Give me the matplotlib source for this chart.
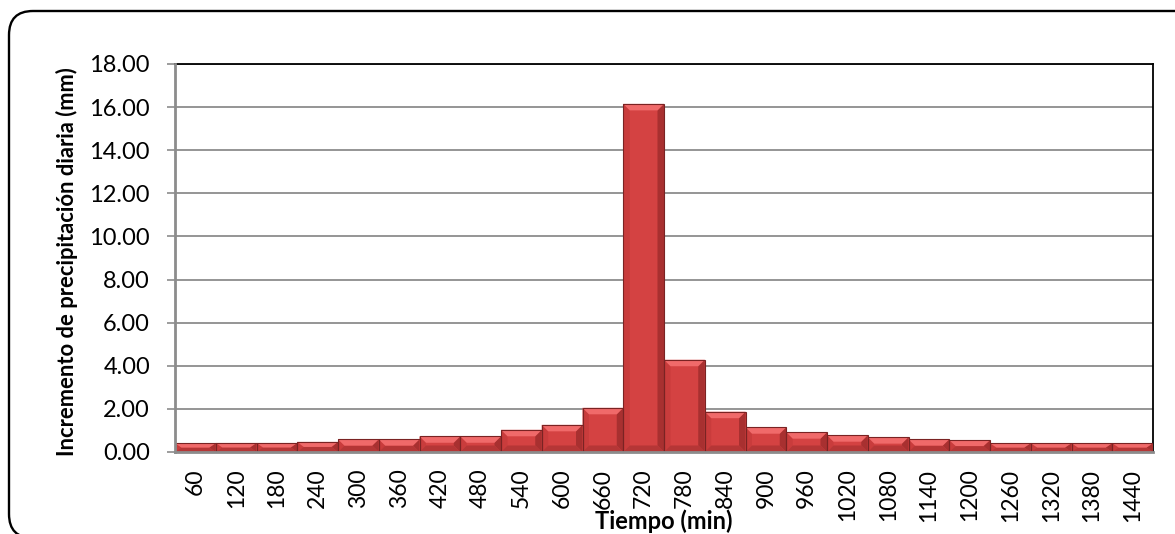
import matplotlib
matplotlib.use("Agg")
import matplotlib.pyplot as plt
from matplotlib.patches import Polygon, FancyBboxPatch
from matplotlib.transforms import IdentityTransform

# Time steps (min) and incremental daily precipitation (mm)
tiempo = [60, 120, 180, 240, 300, 360, 420, 480, 540, 600, 660, 720,
          780, 840, 900, 960, 1020, 1080, 1140, 1200, 1260, 1320, 1380, 1440]
incremento = [0.41, 0.42, 0.42, 0.47, 0.59, 0.59, 0.73, 0.73, 1.03, 1.26, 2.05, 16.15,
              4.28, 1.87, 1.15, 0.92, 0.78, 0.69, 0.59, 0.55, 0.41, 0.41, 0.41, 0.41]
y_ticks = [0, 2, 4, 6, 8, 10, 12, 14, 16, 18]

plt.rcParams['font.family'] = ['Lato', 'DejaVu Sans']

W, H, DPI = 1175, 534, 100
fig = plt.figure(figsize=(W / DPI, H / DPI), dpi=DPI)
fig.patch.set_facecolor('white')

# Rounded chart-area frame (pixel coordinates)
frame = FancyBboxPatch((9, -4), 1200, 527,
                       boxstyle="round,pad=0,rounding_size=24",
                       transform=IdentityTransform(), facecolor='none',
                       edgecolor='black', linewidth=1.7, zorder=0)
fig.patches.append(frame)

ax = fig.add_axes([175 / W, 1 - 452 / H, (1153 - 175) / W, (452 - 64) / H])

x = list(range(len(tiempo)))
bars = ax.bar(x, incremento, width=1.0, color='#d44242', edgecolor='none', zorder=3)

# Bevelled look on every bar, built from each bar's own geometry
ax.set_xlim(-0.5, len(tiempo) - 0.5)
ax.set_ylim(0, 18)
px_per_x = (1153 - 175) / len(tiempo)
px_per_y = (452 - 64) / 18.0
bev_px = 6.5
for b in bars:
    x0 = b.get_x()
    x1 = x0 + b.get_width()
    h = b.get_height()
    bx = bev_px / px_per_x
    by = min(bev_px / px_per_y, h / 2)
    top = [(x0, h), (x1, h), (x1 - bx, h - by), (x0 + bx, h - by)]
    left = [(x0, 0), (x0, h), (x0 + bx, h - by), (x0 + bx, by)]
    right = [(x1, 0), (x1, h), (x1 - bx, h - by), (x1 - bx, by)]
    bottom = [(x0, 0), (x1, 0), (x1 - bx, by), (x0 + bx, by)]
    for pts, col in ((left, '#c93c3c'), (right, '#a83030'),
                     (bottom, '#b53636'), (top, '#f06a6a')):
        ax.add_patch(Polygon(pts, closed=True, facecolor=col, edgecolor='none', zorder=4))
    ax.add_patch(Polygon([(x0, 0), (x0, h), (x1, h), (x1, 0)], closed=True,
                         facecolor='none', edgecolor='#7a2323', linewidth=0.8, zorder=5))

ax.set_yticks(y_ticks)
ax.set_yticklabels([f"{v:.2f}" for v in y_ticks], fontsize=17)
ax.set_xticks(x)
ax.set_xticklabels([str(t) for t in tiempo], rotation=90, fontsize=16.5)
ax.tick_params(axis='x', length=0, pad=12)
ax.tick_params(axis='y', length=6, width=1.2, color='#8c8c8c', pad=12)

ax.yaxis.grid(True, color='#8c8c8c', linewidth=1.3, zorder=1)
ax.set_axisbelow(True)

for side in ('top', 'right'):
    ax.spines[side].set_color('black')
    ax.spines[side].set_linewidth(1.3)
for side in ('left', 'bottom'):
    ax.spines[side].set_color('#8c8c8c')
    ax.spines[side].set_linewidth(2.0)
    ax.spines[side].set_zorder(6)

ax.set_ylabel('Incremento de precipitación diaria (mm)', fontsize=15.8,
              fontweight='bold')
ax.yaxis.set_label_coords((78 - 175) / (1153 - 175), 0.49)
fig.text((175 + 1153) / 2 / W, 1 - 521 / H, 'Tiempo (min)', fontsize=17,
         fontweight='bold', ha='center', va='center')

fig.savefig('out.png', dpi=DPI)
